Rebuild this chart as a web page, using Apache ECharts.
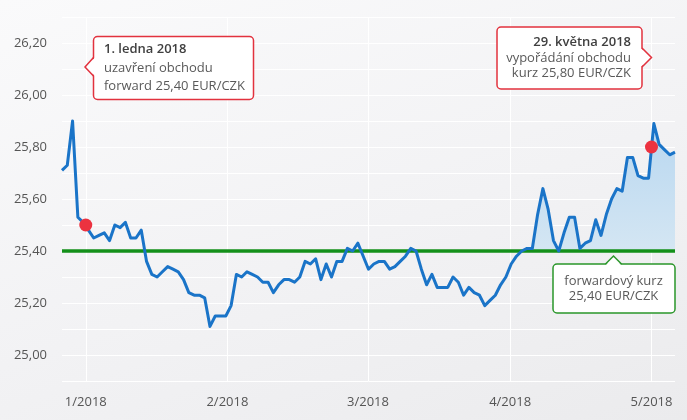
<!DOCTYPE html>
<html><head><meta charset="utf-8">
<script src="https://cdn.jsdelivr.net/npm/echarts@6/dist/echarts.min.js"></script>
<style>
html,body{margin:0;padding:0;}
#c{width:687px;height:420px;background:linear-gradient(160deg,#fafafb 0%,#f2f2f4 55%,#ebebed 100%);}
</style>
</head><body><div id="c"></div>
<script>
// EUR/CZK daily rate (trading days)
const values = [
25.71, 25.73, 25.90, 25.53, 25.51, 25.48, 25.45, 25.46, 25.47, 25.44,
25.50, 25.49, 25.51, 25.45, 25.45, 25.48, 25.36, 25.31, 25.30, 25.32,
25.34, 25.33, 25.32, 25.29, 25.24, 25.23, 25.23, 25.22, 25.11, 25.15,
25.15, 25.15, 25.19, 25.31, 25.30, 25.32, 25.31, 25.30, 25.28, 25.28,
25.24, 25.27, 25.29, 25.29, 25.28, 25.30, 25.36, 25.35, 25.37, 25.29,
25.35, 25.30, 25.36, 25.36, 25.41, 25.40, 25.43, 25.38, 25.33, 25.35,
25.36, 25.36, 25.33, 25.34, 25.36, 25.38, 25.41, 25.40, 25.33, 25.27,
25.31, 25.26, 25.26, 25.26, 25.30, 25.28, 25.23, 25.26, 25.24, 25.23,
25.19, 25.21, 25.23, 25.27, 25.30, 25.35, 25.38, 25.40, 25.41, 25.41,
25.54, 25.64, 25.56, 25.44, 25.40, 25.47, 25.53, 25.53, 25.41, 25.43,
25.44, 25.52, 25.46, 25.54, 25.60, 25.64, 25.63, 25.76, 25.76, 25.69,
25.68, 25.68, 25.89, 25.81, 25.79, 25.77, 25.78
];
const tickLabels = ['1/2018', '2/2018', '3/2018', '4/2018', '5/2018'];
const tickPositions = [4.5, 31.3, 57.9, 84.8, 111.55];
const forwardRate = 25.40;
const markerPositions = [4.5, 111.55];
const markerValues = [25.50, 25.80];
const areaStartIndex = 88;

const lineData = values.map((v, i) => [i, v]);
const areaData = lineData.slice(areaStartIndex);
const forwardData = [[0, forwardRate], [values.length - 1, forwardRate]];
const markerData = markerPositions.map((x, i) => [x, markerValues[i]]);

const FONT = '"Open Sans", "Noto Sans", sans-serif';
const RED = '#e2323e';
const GREEN = '#2a962a';

function callout(rect, pointer, color) {
  const els = [];
  els.push({type: 'rect', z: 100, shape: {x: rect[0], y: rect[1], width: rect[2], height: rect[3], r: 4},
    style: {fill: '#fff', stroke: color, lineWidth: 1.5}});
  els.push({type: 'polygon', z: 101, shape: {points: pointer.fill}, style: {fill: '#fff'}});
  els.push({type: 'polyline', z: 102, shape: {points: pointer.edge}, style: {stroke: color, lineWidth: 1.5, fill: null}});
  return els;
}
function txt(t, x, y, align, bold) {
  return {type: 'text', z: 103, style: {text: t, x: x, y: y, textAlign: align, textVerticalAlign: 'middle',
    font: (bold ? '600 ' : '') + '13px ' + FONT, fill: bold ? '#3f3f3f' : '#595959'}};
}

const graphics = [].concat(
  callout([93.5, 36.5, 160, 63], {fill: [[95, 57.5], [85, 67], [95, 76]], edge: [[93.5, 57.5], [85, 67], [93.5, 76]]}, RED),
  [txt('1. ledna 2018', 104, 49.5, 'left', true), txt('uzavření obchodu', 104, 68, 'left'), txt('forward 25,40 EUR/CZK', 104, 86.5, 'left')],
  callout([497, 27, 145, 62], {fill: [[640.5, 48], [651.5, 57.5], [640.5, 67]], edge: [[642, 48], [651.5, 57.5], [642, 67]]}, RED),
  [txt('29. května 2018', 631, 42.5, 'right', true), txt('vypořádání obchodu', 631, 58, 'right'), txt('kurz 25,80 EUR/CZK', 631, 73.5, 'right')],
  callout([553, 264, 122, 49], {fill: [[605.5, 265.5], [613.5, 256], [621.5, 265.5]], edge: [[605.5, 264], [613.5, 256], [621.5, 264]]}, GREEN),
  [txt('forwardový kurz', 613.5, 281, 'center'), txt('25,40 EUR/CZK', 613.5, 296.5, 'center')]
);

const chart = echarts.init(document.getElementById('c'), null, {renderer: 'canvas'});
chart.setOption({
  backgroundColor: 'transparent',
  animation: false,
  grid: {left: 62, right: 12, top: 17, bottom: 39, containLabel: false},
  xAxis: {
    type: 'value', min: 0, max: values.length - 1,
    axisLine: {show: false},
    axisTick: {show: false, customValues: tickPositions},
    axisLabel: {
      customValues: tickPositions, margin: 15, color: '#555', fontSize: 13, fontFamily: FONT,
      formatter: function (v) {
        for (let i = 0; i < tickPositions.length; i++) if (Math.abs(tickPositions[i] - v) < 0.01) return tickLabels[i];
        return '';
      }
    },
    splitLine: {show: true, lineStyle: {color: '#ffffff', width: 1}}
  },
  yAxis: {
    type: 'value', min: 24.9, max: 26.3, interval: 0.1,
    axisLine: {show: false}, axisTick: {show: false},
    axisLabel: {
      margin: 15, color: '#555', fontSize: 13, fontFamily: FONT,
      formatter: function (v) {
        const k = Math.round(v * 100);
        if (k % 20 !== 0) return '';
        return (k / 100).toFixed(2).replace('.', ',');
      }
    },
    splitLine: {show: true, lineStyle: {color: '#ffffff', width: 1}}
  },
  series: [
    {type: 'line', data: areaData, symbol: 'none', z: 1, lineStyle: {width: 0},
      areaStyle: {origin: forwardRate, opacity: 1, color: {type: 'linear', x: 0, y: 0, x2: 0, y2: 1,
        colorStops: [{offset: 0, color: '#b8d7f0'}, {offset: 1, color: '#d4e6f3'}]}}},
    {type: 'line', data: forwardData, symbol: 'none', z: 2, lineStyle: {color: '#14901a', width: 3.5}},
    {type: 'line', data: lineData, symbol: 'none', z: 3, lineStyle: {color: '#1a74c8', width: 3, join: 'round'}},
    {type: 'scatter', data: markerData, z: 4, symbolSize: 13, itemStyle: {color: '#ec3240', opacity: 1}}
  ],
  graphic: {elements: graphics}
});
</script>
</body></html>
